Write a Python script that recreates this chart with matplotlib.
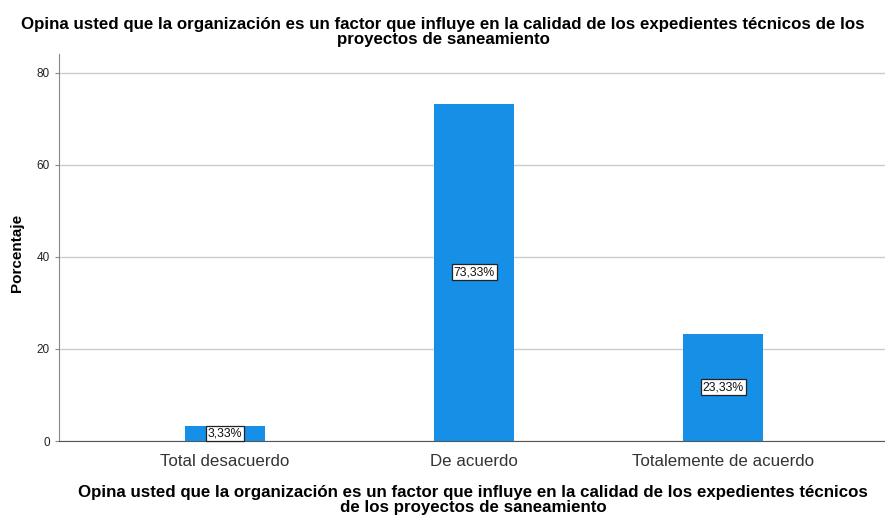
import matplotlib
matplotlib.use("Agg")
import matplotlib.pyplot as plt

categories = ["Total desacuerdo", "De acuerdo", "Totalemente de acuerdo"]
values = [3.33, 73.33, 23.33]
labels = ["3,33%", "73,33%", "23,33%"]
yticks = [0, 20, 40, 60, 80]
title = ("Opina usted que la organización es un factor que influye en la calidad de los expedientes técnicos de los\n"
         "proyectos de saneamiento")
xlabel = ("Opina usted que la organización es un factor que influye en la calidad de los expedientes técnicos\n"
          "de los proyectos de saneamiento")

plt.rcParams['font.family'] = ['Liberation Sans', 'DejaVu Sans']

fig = plt.figure(figsize=(8.85, 5.17), dpi=100)
ax = fig.add_axes([59/885, 1 - 441/517, (885-59)/885, (441-54)/517])

x = list(range(len(categories)))
ax.bar(x, values, width=0.32, color='#1590E6', zorder=3)
for xi, v, lab in zip(x, values, labels):
    ax.text(xi, v/2, lab, ha='center', va='center', fontsize=8.8, zorder=4,
            color='#111111',
            bbox=dict(boxstyle='square,pad=0.15', fc='white', ec='#222222', lw=0.9))

ax.set_xlim(-0.667, 2.65)
ax.set_ylim(0, 84.1)
ax.set_yticks(yticks)
ax.set_xticks(x)
ax.set_xticklabels(categories, fontsize=12.2, color='#333333')
ax.tick_params(axis='y', labelsize=8.5, length=3, color='#888888', labelcolor='#222222')
ax.tick_params(axis='x', length=0, pad=9)
ax.yaxis.grid(True, color='#cccccc', lw=1, zorder=0)
for s in ['top', 'right']:
    ax.spines[s].set_visible(False)
ax.spines['left'].set_color('#888888')
ax.spines['bottom'].set_color('#555555')

fig.text(443/885, 1 - 32/517, title, ha='center', va='center', fontsize=12.2,
         fontweight='bold', linespacing=0.92)
fig.text(473/885, 1 - 500/517, xlabel, ha='center', va='center', fontsize=12.2,
         fontweight='bold', linespacing=0.92)
fig.text(17/885, 1 - 253/517, "Porcentaje", ha='center', va='center', rotation=90,
         fontsize=11, fontweight='bold')

fig.savefig("out.png", dpi=100)
